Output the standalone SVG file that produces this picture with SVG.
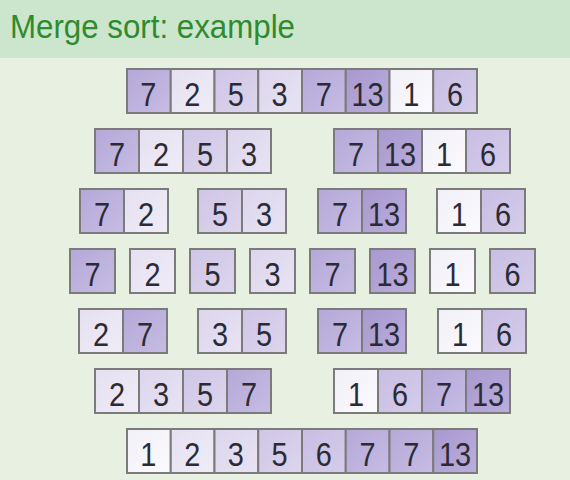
<svg xmlns="http://www.w3.org/2000/svg" width="570" height="480" viewBox="0 0 570 480">
<defs>
<linearGradient id="g1" x1="0" y1="0" x2="1" y2="1"><stop offset="0" stop-color="#f2f0f8"/><stop offset="1" stop-color="#fbfafd"/></linearGradient>
<linearGradient id="g2" x1="0" y1="0" x2="1" y2="1"><stop offset="0" stop-color="#e5e0f1"/><stop offset="1" stop-color="#efecf7"/></linearGradient>
<linearGradient id="g3" x1="0" y1="0" x2="1" y2="1"><stop offset="0" stop-color="#dcd5ed"/><stop offset="1" stop-color="#e8e3f3"/></linearGradient>
<linearGradient id="g5" x1="0" y1="0" x2="1" y2="1"><stop offset="0" stop-color="#cfc5e6"/><stop offset="1" stop-color="#ddd5ed"/></linearGradient>
<linearGradient id="g6" x1="0" y1="0" x2="1" y2="1"><stop offset="0" stop-color="#c8bde3"/><stop offset="1" stop-color="#d5cdea"/></linearGradient>
<linearGradient id="g7" x1="0" y1="0" x2="1" y2="1"><stop offset="0" stop-color="#b5a8d8"/><stop offset="1" stop-color="#c6bce3"/></linearGradient>
<linearGradient id="g13" x1="0" y1="0" x2="1" y2="1"><stop offset="0" stop-color="#a898cf"/><stop offset="1" stop-color="#bbaedc"/></linearGradient>
</defs>
<style>
.c{stroke:#7b7b7b;stroke-width:2}
.v1{fill:url(#g1)}.v2{fill:url(#g2)}.v3{fill:url(#g3)}.v5{fill:url(#g5)}.v6{fill:url(#g6)}.v7{fill:url(#g7)}.v13{fill:url(#g13)}
.n{font-family:"Liberation Sans",Arial,sans-serif;font-size:34px;fill:#2b2b35;text-anchor:middle}
.t{font-family:"Liberation Sans",Arial,sans-serif;font-size:34px;fill:#2e8b2e}
</style>
<rect x="0" y="0" width="570" height="480" fill="#e7f0e1"/>
<rect x="0" y="0" width="570" height="58" fill="#cce6cd"/>
<text class="t" x="10" y="38" textLength="285" lengthAdjust="spacingAndGlyphs">Merge sort:  example</text>

<g id="r1">
<rect class="c v7" x="127" y="69" width="43.75" height="44"/><rect class="c v2" x="170.75" y="69" width="43.75" height="44"/><rect class="c v5" x="214.5" y="69" width="43.75" height="44"/><rect class="c v3" x="258.25" y="69" width="43.75" height="44"/><rect class="c v7" x="302" y="69" width="43.75" height="44"/><rect class="c v13" x="345.75" y="69" width="43.75" height="44"/><rect class="c v1" x="389.5" y="69" width="43.75" height="44"/><rect class="c v6" x="433.25" y="69" width="43.75" height="44"/>
<g transform="scale(0.85 1)"><text class="n" x="174.6" y="106">7</text><text class="n" x="226.1" y="106">2</text><text class="n" x="277.5" y="106">5</text><text class="n" x="329" y="106">3</text><text class="n" x="381" y="106">7</text><text class="n" x="432.5" y="106">13</text><text class="n" x="484" y="106">1</text><text class="n" x="535.4" y="106">6</text></g>
</g>

<g id="r2a">
<rect class="c v7" x="95" y="129" width="44" height="44"/><rect class="c v2" x="139" y="129" width="44" height="44"/><rect class="c v5" x="183" y="129" width="44" height="44"/><rect class="c v3" x="227" y="129" width="44" height="44"/>
<g transform="scale(0.85 1)"><text class="n" x="137.6" y="166">7</text><text class="n" x="189.4" y="166">2</text><text class="n" x="241.2" y="166">5</text><text class="n" x="292.9" y="166">3</text></g>
</g>
<g id="r2b">
<rect class="c v7" x="334" y="129" width="44" height="44"/><rect class="c v13" x="378" y="129" width="44" height="44"/><rect class="c v1" x="422" y="129" width="44" height="44"/><rect class="c v6" x="466" y="129" width="44" height="44"/>
<g transform="scale(0.85 1)"><text class="n" x="418.8" y="166">7</text><text class="n" x="470.6" y="166">13</text><text class="n" x="522.4" y="166">1</text><text class="n" x="574.1" y="166">6</text></g>
</g>

<g id="r3a">
<rect class="c v7" x="80" y="189" width="44" height="44"/><rect class="c v2" x="124" y="189" width="44" height="44"/>
<g transform="scale(0.85 1)"><text class="n" x="120" y="226">7</text><text class="n" x="171.8" y="226">2</text></g>
</g>
<g id="r3b">
<rect class="c v5" x="198" y="189" width="44" height="44"/><rect class="c v3" x="242" y="189" width="44" height="44"/>
<g transform="scale(0.85 1)"><text class="n" x="258.8" y="226">5</text><text class="n" x="310.6" y="226">3</text></g>
</g>
<g id="r3c">
<rect class="c v7" x="318" y="189" width="44" height="44"/><rect class="c v13" x="362" y="189" width="44" height="44"/>
<g transform="scale(0.85 1)"><text class="n" x="400" y="226">7</text><text class="n" x="451.8" y="226">13</text></g>
</g>
<g id="r3d">
<rect class="c v1" x="437" y="189" width="44" height="44"/><rect class="c v6" x="481" y="189" width="44" height="44"/>
<g transform="scale(0.85 1)"><text class="n" x="540" y="226">1</text><text class="n" x="591.8" y="226">6</text></g>
</g>

<g id="r4">
<rect class="c v7" x="70" y="249" width="45" height="44"/><rect class="c v2" x="130" y="249" width="45" height="44"/><rect class="c v5" x="190" y="249" width="45" height="44"/><rect class="c v3" x="250" y="249" width="45" height="44"/><rect class="c v7" x="310" y="249" width="45" height="44"/><rect class="c v13" x="370" y="249" width="45" height="44"/><rect class="c v1" x="430" y="249" width="45" height="44"/><rect class="c v6" x="490" y="249" width="45" height="44"/>
<g transform="scale(0.85 1)"><text class="n" x="108.8" y="286">7</text><text class="n" x="179.4" y="286">2</text><text class="n" x="250" y="286">5</text><text class="n" x="320.6" y="286">3</text><text class="n" x="391.2" y="286">7</text><text class="n" x="461.8" y="286">13</text><text class="n" x="532.4" y="286">1</text><text class="n" x="602.9" y="286">6</text></g>
</g>

<g id="r5a">
<rect class="c v2" x="79" y="309" width="44" height="44"/><rect class="c v7" x="123" y="309" width="44" height="44"/>
<g transform="scale(0.85 1)"><text class="n" x="118.8" y="346">2</text><text class="n" x="170.6" y="346">7</text></g>
</g>
<g id="r5b">
<rect class="c v3" x="198" y="309" width="44" height="44"/><rect class="c v5" x="242" y="309" width="44" height="44"/>
<g transform="scale(0.85 1)"><text class="n" x="258.8" y="346">3</text><text class="n" x="310.6" y="346">5</text></g>
</g>
<g id="r5c">
<rect class="c v7" x="318" y="309" width="44" height="44"/><rect class="c v13" x="362" y="309" width="44" height="44"/>
<g transform="scale(0.85 1)"><text class="n" x="400" y="346">7</text><text class="n" x="451.8" y="346">13</text></g>
</g>
<g id="r5d">
<rect class="c v1" x="438" y="309" width="44" height="44"/><rect class="c v6" x="482" y="309" width="44" height="44"/>
<g transform="scale(0.85 1)"><text class="n" x="541.2" y="346">1</text><text class="n" x="592.9" y="346">6</text></g>
</g>

<g id="r6a">
<rect class="c v2" x="95" y="369" width="44" height="44"/><rect class="c v3" x="139" y="369" width="44" height="44"/><rect class="c v5" x="183" y="369" width="44" height="44"/><rect class="c v7" x="227" y="369" width="44" height="44"/>
<g transform="scale(0.85 1)"><text class="n" x="137.6" y="406">2</text><text class="n" x="189.4" y="406">3</text><text class="n" x="241.2" y="406">5</text><text class="n" x="292.9" y="406">7</text></g>
</g>
<g id="r6b">
<rect class="c v1" x="334" y="369" width="44" height="44"/><rect class="c v6" x="378" y="369" width="44" height="44"/><rect class="c v7" x="422" y="369" width="44" height="44"/><rect class="c v13" x="466" y="369" width="44" height="44"/>
<g transform="scale(0.85 1)"><text class="n" x="418.8" y="406">1</text><text class="n" x="470.6" y="406">6</text><text class="n" x="522.4" y="406">7</text><text class="n" x="574.1" y="406">13</text></g>
</g>

<g id="r7">
<rect class="c v1" x="127" y="429" width="43.75" height="44"/><rect class="c v2" x="170.75" y="429" width="43.75" height="44"/><rect class="c v3" x="214.5" y="429" width="43.75" height="44"/><rect class="c v5" x="258.25" y="429" width="43.75" height="44"/><rect class="c v6" x="302" y="429" width="43.75" height="44"/><rect class="c v7" x="345.75" y="429" width="43.75" height="44"/><rect class="c v7" x="389.5" y="429" width="43.75" height="44"/><rect class="c v13" x="433.25" y="429" width="43.75" height="44"/>
<g transform="scale(0.85 1)"><text class="n" x="174.6" y="466">1</text><text class="n" x="226.1" y="466">2</text><text class="n" x="277.5" y="466">3</text><text class="n" x="329" y="466">5</text><text class="n" x="381" y="466">6</text><text class="n" x="432.5" y="466">7</text><text class="n" x="484" y="466">7</text><text class="n" x="535.4" y="466">13</text></g>
</g>
</svg>
